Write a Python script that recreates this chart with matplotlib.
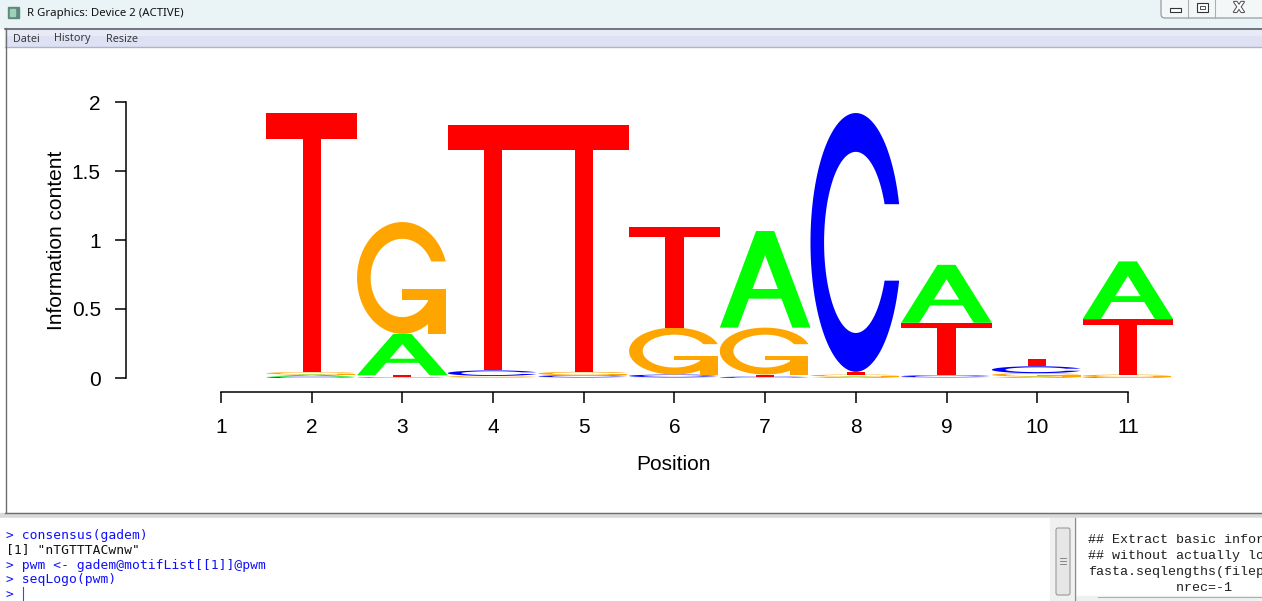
import numpy as np
import matplotlib
matplotlib.use("Agg")
import matplotlib.pyplot as plt
import matplotlib.patheffects as pe
from matplotlib.patches import Polygon, Rectangle, FancyBboxPatch

# information content per letter
positions = list(range(1, 12))
A = [0, 0.015, 0.30, 0.005, 0.005, 0.005, 0.70, 0.01, 0.42, 0.01, 0.42]
C = [0, 0.01, 0.005, 0.04, 0.015, 0.02, 0.01, 1.875, 0.015, 0.05, 0.005]
G = [0, 0.018, 0.81, 0.01, 0.025, 0.34, 0.34, 0.015, 0.005, 0.025, 0.02]
T = [0, 1.877, 0.015, 1.775, 1.785, 0.73, 0.015, 0.02, 0.38, 0.055, 0.40]
ytick_vals = [0, 0.5, 1, 1.5, 2]
ytick_labels = ["0", "0.5", "1", "1.5", "2"]

console_lines = ['> consensus(gadem)', '[1] "nTGTTTACwnw"',
                 '> pwm <- gadem@motifList[[1]]@pwm', '> seqLogo(pwm)', '> ']
script_lines = ['## Extract basic infor', '## without actually lo',
                'fasta.seqlengths(filep', '           nrec=-1']

colors = {"A": "#00ff00", "C": "#0000ff", "G": "#ffa500", "T": "#ff0000"}


def c_outline():
    a1 = np.linspace(0.3 + np.pi / 2, np.pi, 100)
    a2 = np.linspace(np.pi, 1.5 * np.pi, 100)
    xl1, yl1 = 0.5 + 0.5 * np.sin(a1), 0.5 + 0.5 * np.cos(a1)
    xl2, yl2 = 0.5 + 0.5 * np.sin(a2), 0.5 + 0.5 * np.cos(a2)
    xl = np.r_[xl1, xl2]
    yl = np.r_[yl1, yl2]
    x = np.r_[xl, xl[::-1]]
    y = np.r_[yl, 1 - yl[::-1]]
    xi1, yi1 = 0.5 + 0.35 * np.sin(a1), 0.5 + 0.35 * np.cos(a1)
    keep = yi1 <= yl1.max()
    xi1, yi1 = xi1[keep], yi1[keep]
    yi1[0] = yl1.max()
    xi2, yi2 = 0.5 + 0.35 * np.sin(a2), 0.5 + 0.35 * np.cos(a2)
    xi = np.r_[xi1, xi2]
    yi = np.r_[yi1, yi2]
    x1 = np.r_[xi, xi[::-1]]
    y1 = np.r_[yi, 1 - yi[::-1]]
    return np.r_[x, x1[::-1]], np.r_[y, y1[::-1]], xl1.max()


def letter_shapes(ch):
    # unit-box polygons, like seqLogo's letterA/C/G/T
    if ch == "A":
        return [(np.array([0, 4, 6, 10, 8, 6.8, 3.2, 2, 0]) / 10,
                 np.array([0, 10, 10, 0, 0, 3, 3, 0, 0]) / 10, colors["A"]),
                (np.array([3.6, 5, 6.4, 3.6]) / 10,
                 np.array([4, 7.5, 4, 4]) / 10, "white")]
    if ch == "T":
        return [(np.array([0, 10, 10, 6, 6, 4, 4, 0]) / 10,
                 np.array([10, 10, 9, 9, 0, 0, 9, 9]) / 10, colors["T"])]
    x, y, r1 = c_outline()
    if ch == "C":
        return [(x, y, colors["C"])]
    h1 = 0.4
    xa = np.array([r1, 0.5, 0.5, r1 - 0.2, r1 - 0.2, r1, r1])
    ya = np.array([h1, h1, h1 - 0.1, h1 - 0.1, 0, 0, h1])
    return [(x, y, colors["G"]), (xa, ya, colors["G"])]


fig = plt.figure(figsize=(12.62, 6.01), dpi=100)

# window chrome, in pixel coordinates
bg = fig.add_axes([0, 0, 1, 1], zorder=0)
bg.set_xlim(0, 1262)
bg.set_ylim(601, 0)
bg.axis("off")
bg.add_patch(Rectangle((0, 0), 1262, 28, color="#eaf4f7"))
bg.add_patch(Rectangle((8, 7), 11, 11, color="#5d8a7a"))
bg.add_patch(Rectangle((10, 9), 5, 7, color="#9fd0b8"))
bg.text(27, 13.5, "R Graphics: Device 2 (ACTIVE)", fontsize=8.2,
        family="Noto Sans", va="center", color="#111111")
bg.add_patch(FancyBboxPatch((1161, -6), 110, 24, boxstyle="round,pad=0,rounding_size=4",
                            fc="#f3f7f8", ec="#8a9399", lw=0.8))
bg.plot([1188, 1188], [0, 18], color="#a8b0b5", lw=0.8)
bg.plot([1215, 1215], [0, 18], color="#a8b0b5", lw=0.8)
bg.add_patch(Rectangle((1170, 8), 11, 4, fc="white", ec="#333333", lw=0.8))
bg.add_patch(Rectangle((1197, 3), 11, 9, fc="white", ec="#333333", lw=0.8))
bg.add_patch(Rectangle((1200, 6), 5, 3, fc="white", ec="#333333", lw=0.6))
bg.text(1239, 8, "X", fontsize=10, ha="center", va="center", color="white",
        family="DejaVu Sans", fontweight="bold",
        path_effects=[pe.withStroke(linewidth=1.5, foreground="#555555")])
bg.plot([5, 1262], [28.5, 28.5], color="#5a6266", lw=1.2)
bg.add_patch(Rectangle((5, 29), 1257, 18, color="#dde1f3"))
bg.add_patch(Rectangle((5, 29), 1257, 6, color="#e8ebf7"))
bg.plot([5, 1262], [47, 47], color="#b2b3c8", lw=1.0)
for label, lx in [("Datei", 13), ("History", 54), ("Resize", 106)]:
    bg.text(lx, 39, label, fontsize=7.8, family="Noto Sans", va="center", color="#3a3a3a")
bg.add_patch(Rectangle((5, 48), 1257, 464, color="white"))
bg.plot([5.5, 5.5], [28, 512], color="#6e6e6e", lw=1.0)
bg.plot([5, 1262], [512.5, 512.5], color="#6e6e6e", lw=1.0)
bg.add_patch(Rectangle((0, 513), 1262, 5, color="#d9d9d9"))
bg.add_patch(Rectangle((0, 518), 1050, 83, color="white"))
for i, line in enumerate(console_lines):
    col = "#111111" if line.startswith("[") else "#1010ff"
    bg.text(6, 535 + i * 15, line, fontsize=9.4, family="DejaVu Sans Mono",
            va="center", color=col)
bg.plot([22.5, 22.5], [587, 600], color="#4040ff", lw=0.8)
bg.add_patch(Rectangle((1050, 518), 212, 83, color="#f0f0f0"))
bg.add_patch(FancyBboxPatch((1056, 528), 14, 67, boxstyle="round,pad=0,rounding_size=2",
                            fc="#e6e6e6", ec="#9a9a9a", lw=0.8))
for yy in (558, 561, 564):
    bg.plot([1060, 1066], [yy, yy], color="#777777", lw=0.6)
bg.add_patch(Rectangle((1074, 518), 188, 83, color="white"))
bg.plot([1074.5, 1074.5], [518, 601], color="#8c8c8c", lw=1.0)
for i, line in enumerate(script_lines):
    bg.text(1088, 540 + i * 16, line, fontsize=9.6, family="Liberation Mono",
            va="center", color="#1e1e1e")
bg.add_patch(Rectangle((1075, 596), 187, 5, color="#f0f0f0"))
bg.plot([1098, 1262], [596.5, 596.5], color="#b0b0b0", lw=0.8)

# the logo itself
ax = fig.add_axes([125.8 / 1262, (601 - 391.8) / 601, (1223.1 - 125.8) / 1262, 303.6 / 601],
                  zorder=1)
ax.patch.set_alpha(0)
ax.set_xlim(-0.05, 12.05)
ax.set_ylim(-0.1, 2.1)

heights = {"A": A, "C": C, "G": G, "T": T}
for j, pos in enumerate(positions):
    col = sorted("ACGT", key=lambda ch: heights[ch][j])
    ypos = 0.0
    for ch in col:
        ht = heights[ch][j]
        if ht <= 0:
            continue
        for xs, ys, fc in letter_shapes(ch):
            ax.add_patch(Polygon(np.c_[pos - 0.5 + xs, ypos + ht * ys], closed=True,
                                 fc=fc, ec="none", lw=0))
        ypos += ht

for side in ("top", "right"):
    ax.spines[side].set_visible(False)
ax.spines["left"].set_bounds(0, 2)
ax.spines["bottom"].set_bounds(1, 11)
ax.spines["left"].set_linewidth(1.1)
ax.spines["bottom"].set_linewidth(1.1)
ax.set_yticks(ytick_vals, ytick_labels)
ax.set_xticks(positions, [str(p) for p in positions])
ax.tick_params(direction="out", length=8, width=1.1, labelsize=15, pad=10)
ax.tick_params(axis="x", pad=11)
for lbl in ax.get_xticklabels() + ax.get_yticklabels():
    lbl.set_family("Liberation Sans")

fig.text(57 / 1262, 1 - 240 / 601, "Information content", rotation=90, fontsize=15,
         family="Liberation Sans", ha="center", va="center")
fig.text(674 / 1262, 1 - 465 / 601, "Position", fontsize=15,
         family="Liberation Sans", ha="center", va="center")

fig.savefig("out.png", dpi=100)
